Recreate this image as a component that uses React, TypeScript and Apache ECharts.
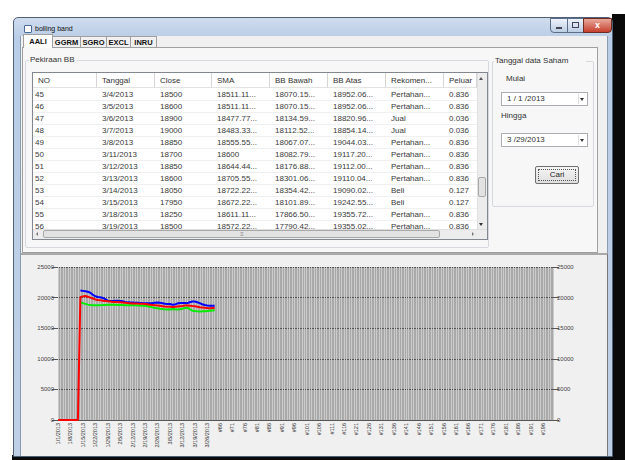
import React, { useEffect, useRef } from "react";
import * as echarts from "echarts";

// ---------- chart data ----------
const dateLabels = [
  "1/1/2013", "1/2/2013", "1/3/2013", "1/4/2013", "1/7/2013", "1/8/2013", "1/9/2013", "1/10/2013", "1/11/2013",
  "1/14/2013", "1/15/2013", "1/16/2013", "1/17/2013", "1/18/2013", "1/21/2013", "1/22/2013", "1/23/2013",
  "1/24/2013", "1/25/2013", "1/28/2013", "1/29/2013", "1/30/2013", "1/31/2013",
  "2/1/2013", "2/4/2013", "2/5/2013", "2/6/2013", "2/7/2013", "2/8/2013", "2/11/2013", "2/12/2013", "2/13/2013",
  "2/14/2013", "2/15/2013", "2/18/2013", "2/19/2013", "2/20/2013", "2/21/2013", "2/22/2013", "2/25/2013",
  "2/26/2013", "2/27/2013", "2/28/2013",
  "3/1/2013", "3/4/2013", "3/5/2013", "3/6/2013", "3/7/2013", "3/8/2013", "3/11/2013", "3/12/2013", "3/13/2013",
  "3/14/2013", "3/15/2013", "3/18/2013", "3/19/2013", "3/20/2013", "3/21/2013", "3/22/2013", "3/25/2013",
  "3/26/2013", "3/27/2013", "3/28/2013", "3/29/2013",
];
const emptySlotCount = 136; // "#65" ... "#200"
const categories = [
  ...dateLabels,
  ...Array.from({ length: emptySlotCount }, (_, k) => "#" + (dateLabels.length + 1 + k)),
];

const smaValues = [
  0, 0, 0, 0, 0, 0, 0, 0, 0,
  20100, 20200, 20250, 20150, 20000, 19850, 19700, 19600, 19550, 19500,
  19450, 19400, 19350, 19300, 19300, 19280, 19250, 19200, 19150, 19100,
  19080, 19050, 19050, 19020, 19000, 18980, 18950, 18900, 18850, 18800,
  18750, 18700, 18650, 18600, 18550,
  18511.11, 18511.11, 18477.77, 18483.33, 18555.55, 18600, 18644.44, 18705.55, 18722.22, 18672.22, 18611.11, 18572.22,
  18500, 18420, 18380, 18330, 18300, 18280, 18300, 18320,
];
const bbAtasValues = [
  null, null, null, null, null, null, null, null, null,
  21150, 21100, 21050, 20950, 20800, 20450, 20250, 20100, 20050, 19950,
  19750, 19500, 19450, 19450, 19480, 19480, 19450, 19400, 19300, 19220,
  19200, 19180, 19160, 19150, 19130, 19100, 19080, 19060, 19080, 19120,
  19170, 19200, 19160, 19080, 19000,
  18952.06, 18952.06, 18820.96, 18854.14, 19044.03, 19117.2, 19112.0, 19110.04, 19090.02, 19242.55, 19355.72, 19355.02,
  19250, 19100, 18900, 18800, 18720, 18680, 18660, 18650,
];
const bbBawahValues = [
  null, null, null, null, null, null, null, null, null,
  19200, 19100, 18980, 18850, 18780, 18750, 18750, 18760, 18770, 18780,
  18800, 18820, 18830, 18830, 18820, 18800, 18790, 18780, 18770, 18760,
  18750, 18740, 18730, 18720, 18700, 18680, 18650, 18600, 18500, 18400,
  18300, 18250, 18180, 18120, 18090,
  18070.15, 18070.15, 18134.59, 18112.52, 18067.07, 18082.79, 18176.88, 18301.06, 18354.42, 18101.89, 17866.5, 17790.42,
  17760, 17740, 17750, 17770, 17800, 17850, 17900, 17950,
];
const yTicks = { min: 0, max: 25000, step: 5000 };

// ---------- table data ----------
const tableHeaders = ["NO", "Tanggal", "Close", "SMA", "BB Bawah", "BB Atas", "Rekomen...", "Peluar"];
const tableNo = ["45", "46", "47", "48", "49", "50", "51", "52", "53", "54", "55", "56"];
const tableDate = ["3/4/2013", "3/5/2013", "3/6/2013", "3/7/2013", "3/8/2013", "3/11/2013", "3/12/2013", "3/13/2013", "3/14/2013", "3/15/2013", "3/18/2013", "3/19/2013"];
const tableClose = ["18500", "18600", "18900", "19000", "18850", "18700", "18850", "18600", "18050", "17950", "18250", "18500"];
const tableSMA = ["18511.11...", "18511.11...", "18477.77...", "18483.33...", "18555.55...", "18600", "18644.44...", "18705.55...", "18722.22...", "18672.22...", "18611.11...", "18572.22..."];
const tableBawah = ["18070.15...", "18070.15...", "18134.59...", "18112.52...", "18067.07...", "18082.79...", "18176.88...", "18301.06...", "18354.42...", "18101.89...", "17866.50...", "17790.42..."];
const tableAtas = ["18952.06...", "18952.06...", "18820.96...", "18854.14...", "19044.03...", "19117.20...", "19112.00...", "19110.04...", "19090.02...", "19242.55...", "19355.72...", "19355.02..."];
const tableRek = ["Pertahan...", "Pertahan...", "Jual", "Jual", "Pertahan...", "Pertahan...", "Pertahan...", "Pertahan...", "Beli", "Beli", "Pertahan...", "Pertahan..."];
const tablePel = ["0.836", "0.836", "0.036", "0.036", "0.836", "0.836", "0.836", "0.836", "0.127", "0.127", "0.836", "0.836"];
const tabNames = ["AALI", "GGRM", "SGRO", "EXCL", "INRU"];

const colX = [33, 97, 155, 212, 270, 328, 386, 444, 477];

const FONT = '"Liberation Sans", Arial, sans-serif';

const abs = (x: number, y: number, w: number, h: number, extra: React.CSSProperties = {}): React.CSSProperties => ({
  position: "absolute", left: x, top: y, width: w, height: h, boxSizing: "border-box", ...extra,
});

function Tri({ x, y, dir }: { x: number; y: number; dir: "down" | "up" | "left" | "right" }) {
  const s: React.CSSProperties = { position: "absolute", left: x, top: y, width: 0, height: 0 };
  if (dir === "down") Object.assign(s, { borderLeft: "2.5px solid transparent", borderRight: "2.5px solid transparent", borderTop: "3px solid #333" });
  if (dir === "up") Object.assign(s, { borderLeft: "2.5px solid transparent", borderRight: "2.5px solid transparent", borderBottom: "3px solid #555" });
  if (dir === "left") Object.assign(s, { borderTop: "2px solid transparent", borderBottom: "2px solid transparent", borderRight: "2.5px solid #777" });
  if (dir === "right") Object.assign(s, { borderTop: "2px solid transparent", borderBottom: "2px solid transparent", borderLeft: "2.5px solid #777" });
  return <div style={s} />;
}

function Chart() {
  const ref = useRef<HTMLDivElement>(null);
  useEffect(() => {
    if (!ref.current) return;
    const chart = echarts.init(ref.current, null, { renderer: "svg" });
    const yAxisBase = {
      type: "value" as const,
      min: yTicks.min,
      max: yTicks.max,
      interval: yTicks.step,
      axisLine: { show: false },
      axisTick: { show: true, length: 6, lineStyle: { color: "#555" } },
      axisLabel: { fontSize: 6, color: "#444", fontFamily: FONT, margin: 4, formatter: (v: number) => String(v) },
    };
    chart.setOption({
      animation: false,
      grid: {
        left: 58, right: 72, top: 267, bottom: 40,
        show: true, backgroundColor: "#a9a9a9", borderWidth: 0,
      },
      xAxis: {
        type: "category",
        data: categories,
        boundaryGap: false,
        axisLine: { show: true, lineStyle: { color: "#555", width: 1 } },
        axisTick: { show: false },
        axisLabel: {
          interval: 4, rotate: 90, fontSize: 5.5, color: "#333", margin: 3, fontFamily: FONT,
        },
        splitLine: { show: true, interval: 0, lineStyle: { color: "#cbcbcb", width: 1 } },
      },
      yAxis: [
        { ...yAxisBase, position: "left", splitLine: { show: true, lineStyle: { color: "#555", width: 1 } } },
        { ...yAxisBase, position: "right", splitLine: { show: false } },
      ],
      series: [
        {
          name: "BB Atas", type: "line", data: bbAtasValues, showSymbol: false,
          lineStyle: { color: "#0000ff", width: 2 }, itemStyle: { color: "#0000ff" },
        },
        {
          name: "BB Bawah", type: "line", data: bbBawahValues, showSymbol: false,
          lineStyle: { color: "#00ee00", width: 2 }, itemStyle: { color: "#00ee00" },
        },
        {
          name: "SMA", type: "line", data: smaValues, showSymbol: false,
          lineStyle: { color: "#ff0000", width: 2 }, itemStyle: { color: "#ff0000" },
        },
      ],
    });
    return () => chart.dispose();
  }, []);
  return <div ref={ref} style={{ position: "absolute", left: 0, top: 0, width: 625, height: 460 }} />;
}

function ListView() {
  const rowTop = 89;
  const rowH = 12;
  const rows = tableNo.map((_, i) => [
    tableNo[i], tableDate[i], tableClose[i], tableSMA[i], tableBawah[i], tableAtas[i], tableRek[i], tablePel[i],
  ]);
  return (
    <>
      <div style={abs(32, 72, 456, 168, { background: "#fff", border: "1px solid #828790" })} />
      {/* header */}
      {tableHeaders.map((h, c) => (
        <div key={"h" + c} style={abs(colX[c], 73, colX[c + 1] - colX[c], 15, {
          borderRight: "1px solid #d5d5d5", borderBottom: "1px solid #e3e3e3", fontSize: 8, color: "#333",
          paddingLeft: 5, lineHeight: "15px", whiteSpace: "nowrap", overflow: "hidden",
        })}>{h}</div>
      ))}
      {/* rows */}
      <div style={abs(33, rowTop, 444, 229 - rowTop, { overflow: "hidden" })}>
        {rows.map((r, i) => r.map((cell, c) => (
          <div key={i + "-" + c} style={abs(colX[c] - 33, i * rowH, colX[c + 1] - colX[c], rowH, {
            fontSize: 8, color: "#3a3a3a", paddingLeft: c === 0 ? 2 : 5, lineHeight: "12px", whiteSpace: "nowrap",
            borderBottom: "1px solid #f0f0f0",
          })}>{cell}</div>
        )))}
      </div>
      {/* vertical scrollbar */}
      <div style={abs(477, 73, 10, 156, { background: "#ececec", borderLeft: "1px solid #e0e0e0" })} />
      <Tri x={479} y={77} dir="up" />
      <div style={abs(478, 177, 8, 20, { background: "#e2e2e2", border: "1px solid #a8a8a8", borderRadius: 2 })} />
      <Tri x={479} y={223} dir="down" />
      {/* horizontal scrollbar */}
      <div style={abs(33, 229, 454, 10, { background: "#ececec", borderTop: "1px solid #e0e0e0" })} />
      <Tri x={36} y={232} dir="left" />
      <div style={abs(43, 230, 397, 8, { background: "#e2e2e2", border: "1px solid #a8a8a8", borderRadius: 2 })} />
      <div style={abs(238, 230, 8, 8, { fontSize: 6, color: "#888", textAlign: "center", lineHeight: "8px" })}>≡</div>
      <Tri x={472} y={232} dir="right" />
    </>
  );
}

function ComboBox({ y, text }: { y: number; text: string }) {
  return (
    <>
      <div style={abs(501, y, 87, 14, {
        background: "#fff", border: "1px solid #abadb3", fontSize: 8, color: "#333", paddingLeft: 5, lineHeight: "12px",
      })}>{text}</div>
      <div style={abs(578, y + 2, 8, 10, { borderLeft: "1px solid #e0e0e0" })} />
      <Tri x={580} y={y + 6} dir="down" />
    </>
  );
}

export default function App() {
  return (
    <div style={{
      position: "fixed", left: 0, top: 0, width: 625, height: 460, overflow: "hidden",
      background: "#fff", fontFamily: FONT,
    }}>
      {/* black screen edges */}
      <div style={abs(612, 14, 13, 446, { background: "#0a0a0a" })} />
      <div style={abs(12, 455, 613, 5, { background: "#0a0a0a" })} />
      {/* window frame */}
      <div style={abs(13, 17, 600, 440, {
        background: "linear-gradient(#cfdcee, #b9cde6 20px, #bfd0e6)", border: "1px solid #4f627a", borderRadius: "5px 5px 0 0",
      })} />
      <div style={abs(24, 25, 8, 8, { border: "1px solid #4b6a93", background: "#fff", borderRadius: 1 })} />
      <div style={abs(35, 23, 80, 12, { fontSize: 7, color: "#111", lineHeight: "12px" })}>bolling band</div>
      {/* window buttons */}
      <div style={abs(550, 18, 18, 15, { background: "linear-gradient(#eef3fa, #bccde4)", border: "1px solid #5d6f88", borderRadius: "0 0 0 4px" })} />
      <div style={abs(556, 27, 6, 2, { background: "#445" })} />
      <div style={abs(567, 18, 17, 15, { background: "linear-gradient(#eef3fa, #bccde4)", border: "1px solid #5d6f88" })} />
      <div style={abs(572, 22, 7, 6, { border: "1px solid #445" })} />
      <div style={abs(583, 18, 29, 15, { background: "linear-gradient(#e9a99c, #c7402d)", border: "1px solid #6b2c22", borderRadius: "0 0 4px 0", color: "#fff", fontSize: 9, fontWeight: "bold", textAlign: "center", lineHeight: "13px" })}>x</div>
      {/* client area */}
      <div style={abs(20, 36, 588, 420, { background: "#f0f0f0", borderLeft: "1px solid #8c9cb0", borderRight: "1px solid #8c9cb0" })} />
      {/* tab panel */}
      <div style={abs(22, 47, 576, 206, { border: "1px solid #a0a0a0", background: "#f7f7f7" })} />
      {tabNames.map((t, i) => {
        const xs = [23, 53, 81, 107, 131, 157];
        const sel = i === 0;
        return (
          <div key={t} style={abs(xs[i], sel ? 34 : 36, xs[i + 1] - xs[i], sel ? 14 : 11, {
            background: sel ? "#fff" : "#f0f0f0", borderTop: "1px solid #a0a0a0", borderRight: "1px solid #a0a0a0",
            borderLeft: i === 0 ? "1px solid #a0a0a0" : "none",
            fontSize: 7.5, fontWeight: "bold", color: "#111", textAlign: "center", lineHeight: sel ? "13px" : "11px",
          })}>{t}</div>
        );
      })}
      {/* group box: Pekiraan BB */}
      <div style={abs(25, 60, 464, 188, { border: "1px solid #d5d9de", borderRadius: 2 })} />
      <div style={abs(29, 54, 48, 12, { background: "#f7f7f7", fontSize: 8, color: "#333", lineHeight: "12px", paddingLeft: 1 })}>Pekiraan BB</div>
      <ListView />
      {/* group box: Tanggal data Saham */}
      <div style={abs(492, 61, 102, 146, { border: "1px solid #d5d9de", borderRadius: 2 })} />
      <div style={abs(494, 55, 92, 12, { background: "#f7f7f7", fontSize: 8, color: "#333", lineHeight: "12px", paddingLeft: 1, whiteSpace: "nowrap" })}>Tanggal data Saham</div>
      <div style={abs(506, 73, 40, 12, { fontSize: 8, color: "#333", lineHeight: "12px" })}>Mulai</div>
      <ComboBox y={92} text="1 / 1 /2013" />
      <div style={abs(501, 110, 40, 12, { fontSize: 8, color: "#333", lineHeight: "12px" })}>Hingga</div>
      <ComboBox y={133} text="3 /29/2013" />
      <div style={abs(535, 166, 44, 18, {
        background: "linear-gradient(#f6f6f6, #dedede)", border: "1px solid #6f6f6f", borderRadius: 2,
        fontSize: 8, color: "#222", textAlign: "center", lineHeight: "16px",
      })}>Cari</div>
      <div style={abs(538, 169, 38, 12, { border: "1px dotted #555" })} />
      {/* chart panel */}
      <div style={abs(21, 253, 587, 203, { background: "#f0f0f0", borderTop: "2px solid #a9a9a9", borderRight: "1px solid #777" })} />
      <Chart />
    </div>
  );
}
